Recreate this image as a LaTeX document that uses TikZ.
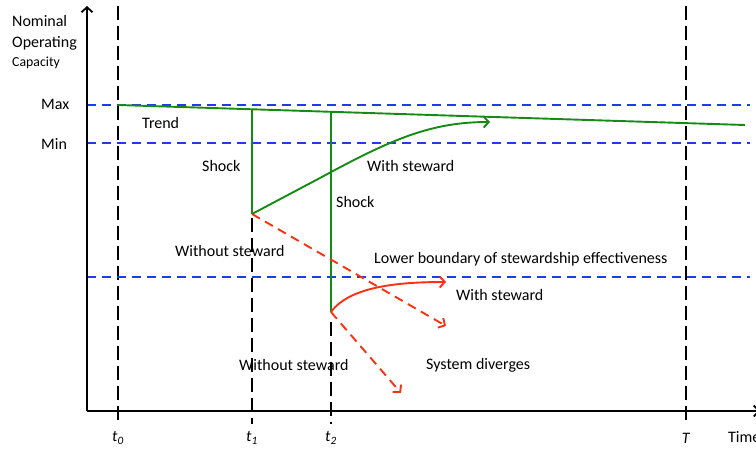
\documentclass[tikz,border=0pt]{standalone}
\usepackage{fontspec}
\setmainfont{Carlito}
\usetikzlibrary{arrows.meta}
\definecolor{gridblue}{RGB}{30,60,235}
\definecolor{trendgreen}{RGB}{20,140,20}
\definecolor{shockred}{RGB}{250,50,20}
\pgfdeclarelayer{edgelayer}
\pgfsetlayers{edgelayer,main}
\tikzstyle{axisline}=[draw=black, line width=1.8pt, -{Straight Barb[length=5pt,width=11pt]}]
\tikzstyle{timeline}=[draw=black, line width=1.8pt, dash pattern=on 14pt off 6pt]
\tikzstyle{bound}=[draw=gridblue, line width=2.4pt, dash pattern=on 9pt off 6pt]
\tikzstyle{greenedge}=[draw=trendgreen, line width=1.9pt]
\tikzstyle{rededge}=[draw=shockred, line width=1.9pt]
\tikzstyle{reddash}=[draw=shockred, line width=1.9pt, dash pattern=on 9pt off 6pt]
\tikzstyle{arrowed}=[-{Straight Barb[length=5pt,width=11pt]}]
\tikzstyle{lbl}=[inner sep=0pt, anchor=west, font=\fontsize{16}{19}\selectfont]

\begin{document}
\begin{tikzpicture}[x=1pt, y=-1pt]
	\useasboundingbox (0,0) rectangle (756,451);
	% axes
	\coordinate (origin) at (87,411);
	\coordinate (ytop) at (87,6);
	\coordinate (xend) at (760,411);
	% time marks
	\coordinate (t0top) at (118,6);
	\coordinate (t0bot) at (118,424);
	\coordinate (t1top) at (252,218);
	\coordinate (t1bot) at (252,424);
	\coordinate (t2top) at (331,322);
	\coordinate (t2bot) at (331,424);
	\coordinate (Ttop) at (686,6);
	\coordinate (Tbot) at (686,424);
	% bounds
	\coordinate (maxl) at (87,105);
	\coordinate (maxr) at (750,105);
	\coordinate (minl) at (87,143);
	\coordinate (minr) at (750,143);
	\coordinate (lowl) at (87,277);
	\coordinate (lowr) at (750,277);
	% trend and shocks
	\coordinate (trend0) at (118,105);
	\coordinate (trendT) at (745,125);
	\coordinate (shock1a) at (252,109.3);
	\coordinate (shock1b) at (252,214);
	\coordinate (shock2a) at (331,111.8);
	\coordinate (shock2b) at (331,312);
	\coordinate (recover1) at (490,122);
	\coordinate (lost1) at (446,326);
	\coordinate (recover2) at (446,282);
	\coordinate (lost2) at (401,393);

	\begin{pgfonlayer}{edgelayer}
		\draw [style=timeline] (t0top) to (t0bot);
		\draw [style=timeline] (t1top) to (t1bot);
		\draw [style=timeline] (t2top) to (t2bot);
		\draw [style=timeline] (Ttop) to (Tbot);
		\draw [style=bound] (maxl) to (maxr);
		\draw [style=bound] (minl) to (minr);
		\draw [style=bound] (lowl) to (lowr);
	\end{pgfonlayer}

	\draw [style=axisline] (origin) to (ytop);
	\draw [style=axisline] (origin) to (xend);

	\draw [style=greenedge] (trend0) to (trendT);
	\draw [style=greenedge] (shock1a) to (shock1b);
	\draw [style=greenedge] (shock2a) to (shock2b);
	\draw [style=greenedge, arrowed] (shock1b) -- (320,178) .. controls (390,140) and (430,122) .. (recover1);
	\draw [style=reddash, arrowed] (shock1b) to (lost1);
	\draw [style=rededge, arrowed] (shock2b) .. controls (350,286) and (400,282) .. (recover2);
	\draw [style=reddash, arrowed] (shock2b) to (lost2);

	% labels
	\node [style=lbl] (nominal) at (12,21) {Nominal};
	\node [style=lbl] (operating) at (12,43) {Operating};
	\node [style=lbl, font=\fontsize{13.8}{16}\selectfont] (capacity) at (12,63) {Capacity};
	\node [style=lbl] (maxlbl) at (41,104) {Max};
	\node [style=lbl] (minlbl) at (41,144) {Min};
	\node [style=lbl] (trendlbl) at (142,123) {Trend};
	\node [style=lbl] (shock1lbl) at (202,166) {Shock};
	\node [style=lbl] (with1lbl) at (367,166) {With steward};
	\node [style=lbl] (shock2lbl) at (336,202) {Shock};
	\node [style=lbl] (without1lbl) at (175,251) {Without steward};
	\node [style=lbl] (lowlbl) at (374,259) {Lower boundary of stewardship effectiveness};
	\node [style=lbl] (with2lbl) at (456,295) {With steward};
	\node [style=lbl] (without2lbl) at (239,365) {Without steward};
	\node [style=lbl] (divlbl) at (426,365) {System diverges};
	\node [style=lbl, anchor=center] (t0lbl) at (118,438) {\textit{t\textsubscript{0}}};
	\node [style=lbl, anchor=center] (t1lbl) at (252,438) {\textit{t\textsubscript{1}}};
	\node [style=lbl, anchor=center] (t2lbl) at (331,438) {\textit{t\textsubscript{2}}};
	\node [style=lbl, anchor=center] (Tlbl) at (686,438) {\textit{T}};
	\node [style=lbl] (timelbl) at (728,437) {Time};
\end{tikzpicture}
\end{document}
